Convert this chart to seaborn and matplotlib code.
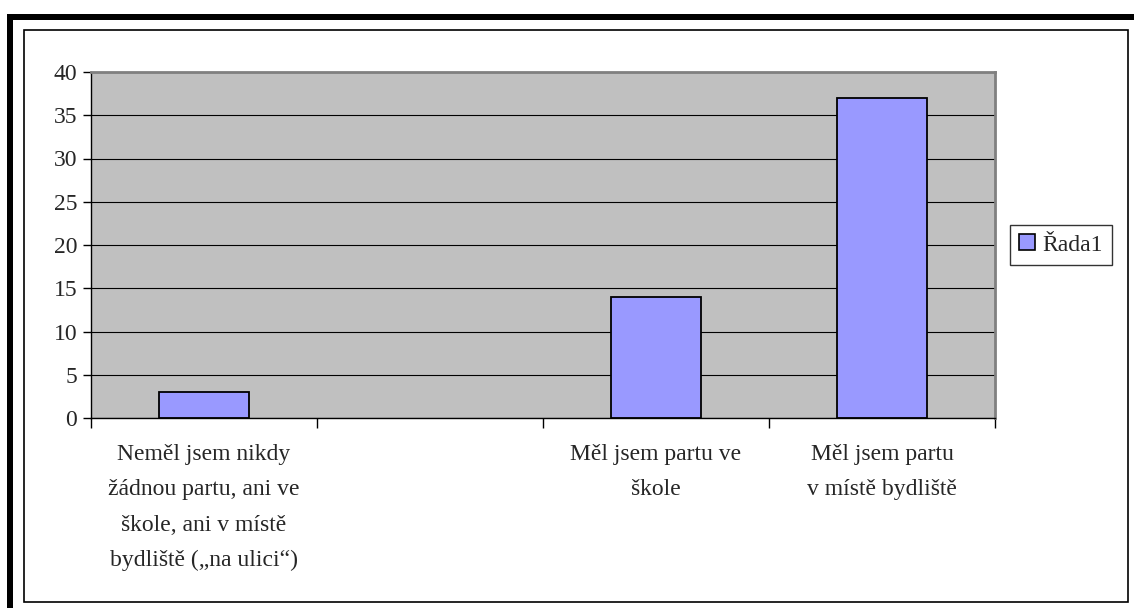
import numpy as np
import pandas as pd
import seaborn as sns
import matplotlib.pyplot as plt
from matplotlib.patches import Rectangle, Patch

# data
categories = [
    "Neměl jsem nikdy\nžádnou partu, ani ve\nškole, ani v místě\nbydliště („na ulici“)",
    " ",
    "Měl jsem partu ve\nškole",
    "Měl jsem partu\nv místě bydliště",
]
values = [3, np.nan, 14, 37]
series_name = "Řada1"

df = pd.DataFrame({"kategorie": categories, "pocet": values})

sns.set_style("white")
plt.rcParams["font.family"] = ["Liberation Serif", "DejaVu Serif"]

W, H = 1134, 608
fig = plt.figure(figsize=(W / 100, H / 100), dpi=100)
fig.patch.set_facecolor("white")

def fx(px):
    return px / W

def fy(py):
    return 1 - py / H

# outer frame: thick black strips top + left, thin inner border
fig.add_artist(Rectangle((fx(7), fy(20)), fx(W - 7), 6 / H, transform=fig.transFigure,
                         facecolor="black", edgecolor="none"))
fig.add_artist(Rectangle((fx(7), 0), 6 / W, fy(14), transform=fig.transFigure,
                         facecolor="black", edgecolor="none"))
fig.add_artist(Rectangle((fx(24), fy(602)), fx(1128 - 24), (602 - 30) / H,
                         transform=fig.transFigure, facecolor="none",
                         edgecolor="black", linewidth=1.2))

ax = fig.add_axes([fx(91), fy(418), fx(995 - 91), (418 - 72) / H])
ax.set_facecolor("#C0C0C0")

sns.barplot(data=df, x="kategorie", y="pocet", color="#9999FF", saturation=1,
            edgecolor="black", linewidth=1.3, width=0.4, ax=ax)

ax.set_ylim(0, 40)
ax.set_xlim(-0.5, len(categories) - 0.5)
ax.set_yticks(np.arange(0, 41, 5))
ax.yaxis.grid(True, color="black", linewidth=0.8)
ax.set_axisbelow(True)

ax.set_xlabel("")
ax.set_ylabel("")
ax.tick_params(axis="y", labelsize=17, length=6, width=1, color="black", pad=4, left=True)
ax.tick_params(axis="x", which="major", labelsize=17, length=0, pad=19)
ax.set_xticks(np.arange(-0.5, len(categories), 1), minor=True)
ax.tick_params(axis="x", which="minor", length=7, width=1, color="black", bottom=True)
for lab in ax.get_xticklabels():
    lab.set_linespacing(1.88)

for side in ["top", "right"]:
    ax.spines[side].set_color("#808080")
    ax.spines[side].set_linewidth(2)
for side in ["left", "bottom"]:
    ax.spines[side].set_color("black")
    ax.spines[side].set_linewidth(1)

handle = Patch(facecolor="#9999FF", edgecolor="black", linewidth=1.2)
fig.legend([handle], [series_name], loc="center left",
           bbox_to_anchor=(fx(1010), fy(245)), fontsize=17, frameon=True,
           fancybox=False, edgecolor="black", handlelength=0.65, handleheight=0.65,
           handletextpad=0.3, borderpad=0.4, borderaxespad=0)

fig.savefig("out.png", dpi=100)
